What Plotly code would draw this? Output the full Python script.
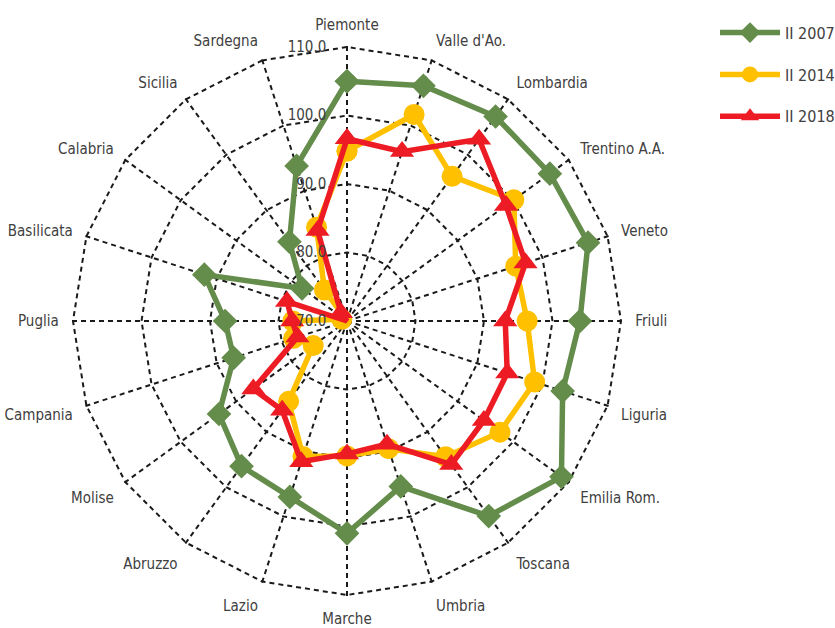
import plotly.graph_objects as go

regions = ["Piemonte", "Valle d'Ao.", "Lombardia", "Trentino A.A.", "Veneto", "Friuli",
           "Liguria", "Emilia Rom.", "Toscana", "Umbria", "Marche", "Lazio", "Abruzzo",
           "Molise", "Campania", "Puglia", "Basilicata", "Calabria", "Sicilia", "Sardegna"]

ii_2007 = [105.0, 106.1, 106.9, 106.6, 107.0, 104.0, 103.1, 108.7, 105.2, 95.4,
           101.0, 97.0, 96.2, 93.1, 87.4, 87.8, 91.9, 78.1, 84.3, 93.8]
ii_2014 = [94.8, 101.7, 96.1, 100.1, 95.9, 96.3, 98.8, 97.6, 94.5, 89.6,
           89.7, 90.8, 84.5, 76.1, 78.2, 77.9, 70.8, 67.6, 75.6, 84.4]
ii_2018 = [96.6, 96.0, 102.8, 98.7, 97.4, 93.1, 94.6, 94.7, 95.9, 88.9,
           89.4, 91.6, 86.1, 86.9, 77.6, 78.0, 79.2, 68.5, 71.5, 83.9]

radial_ticks = [70, 80, 90, 100, 110]
radial_labels = ["70.0", "80.0", "90.0", "100.0", "110.0"]

series = [
    ("II 2007", ii_2007, "#648C4B", "diamond", 19),
    ("II 2014", ii_2014, "#FFC000", "circle", 21),
    ("II 2018", ii_2018, "#ED1C24", "triangle-up", 21),
]

FONT = "DejaVu Sans Condensed, Liberation Sans Narrow, Roboto Condensed, sans-serif"
GRID = "#1a1a1a"

fig = go.Figure()
for name, vals, color, sym, size in series:
    fig.add_trace(go.Scatterpolar(
        r=vals + [vals[0]],
        theta=regions + [regions[0]],
        mode="lines+markers",
        name=name,
        legendgroup=name,
        line=dict(color=color, width=5.5),
        marker=dict(symbol=sym, size=size, color=color),
    ))

RMAX = 110.4
cx, cy = 347, 321
R = 274 * (RMAX - 70) / 40
fig.update_layout(
    width=835, height=628,
    margin=dict(l=0, r=0, t=0, b=0, autoexpand=False),
    paper_bgcolor="white",
    plot_bgcolor="white",
    font=dict(family=FONT, size=15, color="#404040"),
    polar=dict(
        domain=dict(x=[(cx - R) / 835, (cx + R) / 835],
                    y=[1 - (cy + R) / 628, 1 - (cy - R) / 628]),
        gridshape="linear",
        bgcolor="white",
        radialaxis=dict(
            range=[70, RMAX],
            tickvals=radial_ticks,
            ticktext=radial_labels,
            angle=90,
            tickangle=90,
            side="counterclockwise",
            showline=False,
            ticks="outside",
            ticklen=15,
            tickcolor="rgba(0,0,0,0)",
            gridcolor=GRID,
            griddash="5px,4px",
            gridwidth=2,
            tickfont=dict(size=15, color="#404040"),
        ),
        angularaxis=dict(
            rotation=90,
            direction="clockwise",
            showline=False,
            ticks="outside",
            ticklen=8,
            tickcolor="rgba(0,0,0,0)",
            gridcolor=GRID,
            griddash="5px,4px",
            gridwidth=2,
            tickfont=dict(size=15, color="#404040"),
        ),
    ),
    legend=dict(
        x=1.006, y=0.975, xanchor="right", yanchor="top",
        itemwidth=60,
        traceorder="grouped",
        tracegroupgap=18,
        font=dict(size=16, color="#404040"),
        bgcolor="rgba(0,0,0,0)",
    ),
)

fig.write_html(
    "out.html",
    config={"displayModeBar": False},
    post_script="document.body.style.margin='0';document.body.style.overflow='hidden';",
)
